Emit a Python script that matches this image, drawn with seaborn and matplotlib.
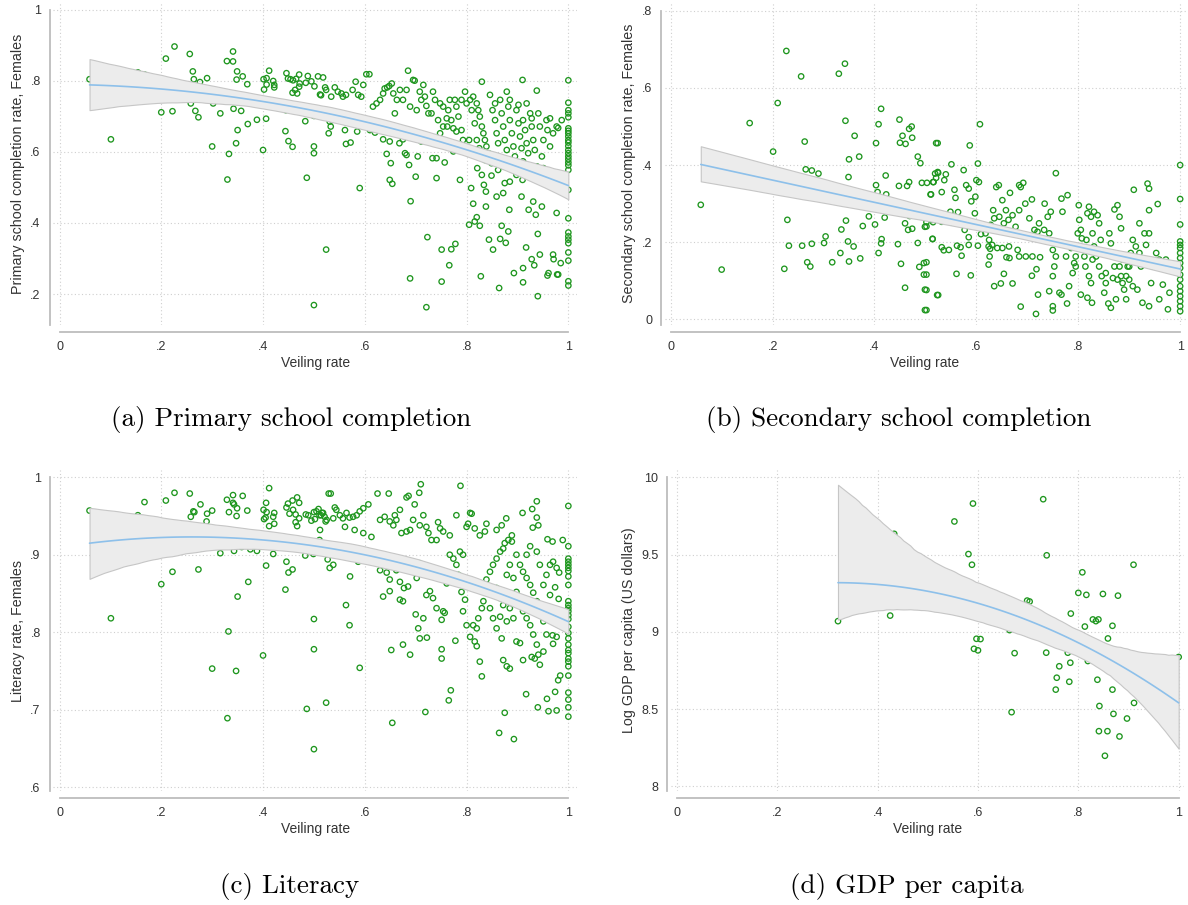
import numpy as np
import pandas as pd
import matplotlib
matplotlib.use("Agg")
import matplotlib.pyplot as plt
import seaborn as sns

# ---------------- data ----------------
a_points = [
(0.059,0.804),(0.101,0.635),(0.154,0.823),(0.167,0.817),(0.209,0.862),(0.226,0.896),(0.200,0.711),(0.222,0.714),
(0.256,0.875),(0.262,0.826),(0.264,0.804),(0.276,0.796),(0.290,0.807),(0.267,0.715),(0.273,0.697),(0.258,0.736),
(0.300,0.615),(0.302,0.736),(0.316,0.708),(0.329,0.855),(0.341,0.882),(0.341,0.854),(0.349,0.826),(0.348,0.803),
(0.360,0.812),(0.369,0.790),(0.342,0.721),(0.357,0.715),(0.350,0.661),(0.347,0.624),(0.333,0.594),(0.330,0.522),
(0.370,0.678),(0.388,0.690),(0.406,0.693),(0.400,0.605),(0.401,0.804),(0.407,0.807),(0.402,0.775),(0.407,0.789),
(0.412,0.828),(0.420,0.799),(0.422,0.788),(0.422,0.781),(0.420,0.729),(0.445,0.717),(0.444,0.658),(0.450,0.630),
(0.458,0.614),(0.446,0.821),(0.449,0.806),(0.454,0.804),(0.459,0.801),(0.465,0.805),(0.471,0.817),(0.458,0.766),
(0.463,0.774),(0.467,0.764),(0.472,0.792),(0.471,0.783),(0.484,0.794),(0.488,0.813),(0.495,0.798),(0.501,0.784),
(0.483,0.686),(0.499,0.705),(0.500,0.701),(0.500,0.615),(0.500,0.596),(0.486,0.527),(0.500,0.169),(0.524,0.325),
(0.508,0.812),(0.518,0.809),(0.512,0.761),(0.514,0.759),(0.522,0.781),(0.524,0.774),(0.529,0.652),(0.531,0.685),
(0.534,0.755),(0.541,0.781),(0.547,0.769),(0.554,0.764),(0.557,0.755),(0.563,0.760),(0.576,0.774),(0.582,0.797),
(0.587,0.760),(0.593,0.755),(0.597,0.788),(0.603,0.818),(0.609,0.818),(0.533,0.671),(0.535,0.690),(0.561,0.661),
(0.563,0.622),(0.572,0.626),(0.585,0.657),(0.590,0.498),(0.570,0.699),(0.500,0.703),
(0.610,0.661),(0.620,0.654),(0.616,0.727),(0.623,0.736),(0.630,0.746),(0.636,0.764),(0.639,0.778),(0.644,0.781),
(0.648,0.785),(0.653,0.792),(0.656,0.764),(0.636,0.635),(0.649,0.629),(0.643,0.594),(0.651,0.568),(0.649,0.521),
(0.654,0.510),(0.659,0.708),(0.662,0.666),(0.668,0.624),(0.663,0.746),(0.669,0.774),(0.675,0.746),(0.675,0.635),
(0.679,0.596),(0.682,0.591),(0.687,0.563),(0.690,0.461),(0.685,0.828),(0.689,0.244),(0.682,0.774),(0.689,0.727),
(0.695,0.802),(0.698,0.800),(0.700,0.530),(0.704,0.587),(0.708,0.769),(0.711,0.746),(0.715,0.788),(0.718,0.755),
(0.721,0.163),(0.721,0.729),(0.723,0.360),(0.725,0.708),(0.728,0.633),(0.733,0.582),(0.734,0.769),(0.738,0.746),
(0.741,0.526),(0.741,0.582),(0.744,0.689),(0.748,0.736),(0.751,0.325),(0.751,0.235),(0.754,0.727),(0.757,0.570),
(0.761,0.694),(0.762,0.671),(0.766,0.281),(0.767,0.746),(0.770,0.326),(0.774,0.601),(0.777,0.746),(0.778,0.341),
(0.780,0.727),(0.784,0.699),(0.787,0.521),(0.790,0.661),(0.793,0.633),(0.797,0.769),(0.799,0.601),
(0.702,0.717),(0.731,0.708),(0.754,0.671),(0.764,0.717),(0.770,0.689),(0.780,0.657),(0.790,0.746),(0.774,0.666),
(0.748,0.652),(0.718,0.647),(0.711,0.629),(0.738,0.626),
(0.805,0.395),(0.809,0.498),(0.813,0.454),(0.816,0.404),(0.820,0.416),(0.826,0.392),(0.828,0.250),(0.821,0.554),
(0.830,0.535),(0.834,0.507),(0.838,0.488),(0.838,0.446),(0.830,0.797),(0.844,0.353),(0.849,0.533),(0.852,0.325),
(0.859,0.474),(0.862,0.549),(0.864,0.217),(0.866,0.355),(0.869,0.392),(0.872,0.484),(0.875,0.512),(0.877,0.344),
(0.879,0.769),(0.882,0.376),(0.884,0.437),(0.885,0.516),(0.893,0.259),(0.895,0.549),(0.898,0.535),(0.908,0.474),
(0.910,0.802),(0.910,0.521),(0.911,0.273),(0.911,0.233),(0.917,0.331),(0.922,0.437),(0.928,0.298),(0.931,0.460),
(0.933,0.281),(0.936,0.423),(0.940,0.369),(0.940,0.194),(0.944,0.311),(0.948,0.446),(0.959,0.252),(0.961,0.259),
(0.970,0.311),(0.971,0.298),(0.977,0.428),(0.978,0.255),(0.980,0.255),(0.985,0.287),(0.938,0.772),(0.973,0.523),
(0.800,0.736),(0.807,0.746),(0.813,0.755),(0.820,0.736),(0.823,0.717),(0.826,0.699),(0.830,0.671),(0.833,0.652),
(0.836,0.633),(0.839,0.615),(0.843,0.596),(0.846,0.760),(0.851,0.717),(0.856,0.689),(0.859,0.652),(0.862,0.624),
(0.866,0.746),(0.869,0.708),(0.872,0.671),(0.875,0.633),(0.879,0.605),(0.882,0.727),(0.885,0.689),(0.889,0.652),
(0.892,0.615),(0.895,0.587),(0.898,0.717),(0.902,0.680),(0.905,0.643),(0.908,0.610),(0.911,0.689),(0.915,0.661),
(0.918,0.624),(0.921,0.596),(0.925,0.708),(0.928,0.671),(0.931,0.633),(0.934,0.605),(0.938,0.559),(0.941,0.708),
(0.944,0.671),(0.948,0.587),(0.951,0.633),(0.957,0.689),(0.959,0.661),(0.964,0.615),(0.970,0.652),(0.977,0.671),
(0.987,0.689),(0.810,0.717),(0.816,0.680),(0.820,0.633),(0.825,0.610),(0.830,0.596),(0.800,0.605),(0.805,0.633),
(0.836,0.577),(0.849,0.568),(0.872,0.559),(0.885,0.568),(0.911,0.573),(0.951,0.554),(0.856,0.736),(0.885,0.746),
(0.902,0.732),(0.918,0.736),(0.928,0.694),(0.964,0.694),(0.980,0.667),
(1.0,0.801),(1.0,0.738),(1.0,0.717),(1.0,0.708),(1.0,0.697),(1.0,0.666),(1.0,0.659),(1.0,0.652),(1.0,0.643),
(1.0,0.633),(1.0,0.626),(1.0,0.616),(1.0,0.605),(1.0,0.596),(1.0,0.587),(1.0,0.579),(1.0,0.570),(1.0,0.562),
(1.0,0.549),(1.0,0.493),(1.0,0.413),(1.0,0.373),(1.0,0.362),(1.0,0.353),(1.0,0.343),(1.0,0.317),(1.0,0.294),
(1.0,0.236),(1.0,0.224),
]

b_points = [
(0.059,0.297),(0.100,0.129),(0.155,0.509),(0.201,0.435),(0.210,0.561),(0.227,0.696),(0.256,0.630),(0.263,0.461),
(0.265,0.389),(0.277,0.386),(0.290,0.378),(0.300,0.354),(0.229,0.258),(0.232,0.191),(0.223,0.131),(0.258,0.191),
(0.277,0.196),(0.268,0.148),(0.274,0.137),(0.301,0.198),(0.304,0.215),(0.317,0.148),(0.330,0.637),(0.342,0.663),
(0.343,0.515),(0.335,0.233),(0.344,0.256),(0.333,0.172),(0.348,0.202),(0.350,0.150),(0.359,0.189),(0.349,0.369),
(0.350,0.415),(0.361,0.476),(0.370,0.422),(0.377,0.242),(0.372,0.158),(0.389,0.267),(0.403,0.457),(0.403,0.348),
(0.406,0.330),(0.401,0.246),(0.408,0.172),(0.413,0.546),(0.408,0.506),(0.414,0.208),(0.413,0.197),(0.422,0.373),
(0.423,0.324),(0.420,0.264),(0.449,0.518),(0.448,0.346),(0.446,0.195),(0.452,0.144),(0.450,0.458),(0.455,0.476),
(0.461,0.455),(0.468,0.494),(0.473,0.500),(0.474,0.471),(0.468,0.356),(0.464,0.346),(0.469,0.268),(0.460,0.249),
(0.466,0.232),(0.474,0.235),(0.460,0.082),(0.485,0.422),(0.490,0.405),(0.485,0.198),(0.488,0.136),(0.502,0.148),
(0.502,0.116),(0.502,0.076),(0.502,0.024),(0.503,0.354),(0.502,0.252),(0.502,0.241),(0.514,0.209),(0.515,0.252),
(0.511,0.324),(0.516,0.356),(0.521,0.367),(0.525,0.380),(0.524,0.457),(0.525,0.063),
(0.607,0.506),(0.587,0.451),(0.521,0.457),(0.603,0.404),(0.551,0.402),(0.575,0.387),(0.519,0.378),(0.524,0.382),
(0.537,0.361),(0.540,0.376),(0.493,0.354),(0.515,0.356),(0.557,0.336),(0.559,0.315),(0.580,0.348),(0.585,0.339),
(0.600,0.361),(0.605,0.356),(0.590,0.306),(0.598,0.318),(0.532,0.330),(0.510,0.324),(0.549,0.279),(0.564,0.278),
(0.514,0.258),(0.532,0.253),(0.553,0.251),(0.577,0.232),(0.585,0.213),(0.609,0.221),(0.597,0.275),(0.499,0.240),
(0.514,0.208),(0.532,0.187),(0.536,0.179),(0.546,0.180),(0.562,0.191),(0.569,0.187),(0.571,0.165),(0.585,0.193),
(0.603,0.191),(0.497,0.146),(0.497,0.116),(0.499,0.077),(0.499,0.024),(0.523,0.063),(0.561,0.118),(0.589,0.114),
(0.624,0.189),(0.627,0.183),(0.626,0.163),(0.624,0.142),(0.635,0.086),(0.648,0.093),(0.654,0.118),(0.659,0.161),
(0.665,0.159),(0.671,0.093),(0.687,0.033),(0.717,0.014),(0.721,0.064),(0.725,0.161),(0.718,0.130),(0.709,0.113),
(0.697,0.163),(0.710,0.163),(0.684,0.163),(0.681,0.180),(0.664,0.189),(0.651,0.185),(0.641,0.185),(0.631,0.193),
(0.625,0.206),(0.618,0.223),(0.628,0.245),(0.635,0.262),(0.645,0.266),(0.654,0.249),(0.663,0.258),(0.677,0.240),
(0.671,0.270),(0.684,0.283),(0.696,0.300),(0.704,0.262),(0.714,0.232),(0.720,0.227),(0.723,0.249),(0.733,0.232),
(0.743,0.223),(0.740,0.266),(0.746,0.279),(0.756,0.379),(0.767,0.313),(0.769,0.279),(0.779,0.322),(0.639,0.343),
(0.644,0.348),(0.666,0.328),(0.684,0.348),(0.692,0.354),(0.687,0.343),(0.709,0.311),(0.734,0.300),(0.651,0.309),
(0.658,0.283),(0.633,0.283),(0.750,0.180),(0.756,0.163),(0.753,0.137),(0.750,0.112),(0.743,0.073),(0.750,0.034),
(0.750,0.023),(0.763,0.069),(0.767,0.064),(0.778,0.041),(0.782,0.086),(0.789,0.120),(0.792,0.146),(0.795,0.163),
(0.795,0.189),(0.799,0.223),(0.801,0.296),(0.802,0.258),(0.805,0.232),(0.807,0.210),(0.809,0.185),(0.812,0.163),
(0.814,0.137),(0.805,0.064),(0.818,0.056),(0.827,0.043),(0.821,0.112),(0.825,0.094),(0.828,0.155),(0.831,0.189),
(0.828,0.223),(0.825,0.266),(0.821,0.292),(0.818,0.275),(0.831,0.279),(0.838,0.270),(0.841,0.249),(0.844,0.206),
(0.841,0.137),(0.846,0.112),(0.851,0.069),(0.854,0.094),(0.859,0.041),(0.864,0.030),(0.861,0.223),(0.864,0.197),
(0.868,0.172),(0.871,0.285),(0.877,0.296),(0.881,0.266),(0.884,0.236),(0.881,0.137),(0.884,0.112),(0.887,0.094),
(0.890,0.077),(0.894,0.052),(0.874,0.052),(0.897,0.137),(0.900,0.103),(0.903,0.172),(0.907,0.206),(0.909,0.336),
(0.913,0.189),(0.916,0.077),(0.920,0.249),(0.923,0.137),(0.926,0.043),(0.930,0.223),(0.933,0.193),(0.936,0.352),
(0.939,0.339),(0.939,0.283),(0.939,0.034),(0.943,0.094),(0.946,0.137),(0.953,0.172),(0.956,0.299),(0.959,0.052),
(0.966,0.090),(0.972,0.155),(0.976,0.026),(0.979,0.069),(0.985,0.129),(0.989,0.133),
(0.776,0.163),(0.786,0.185),(0.795,0.137),(0.816,0.206),(0.835,0.163),(0.851,0.172),(0.871,0.137),(0.877,0.103),
(0.894,0.112),(0.907,0.086),(0.920,0.172),(0.939,0.223),(0.959,0.155),(0.854,0.120),(0.868,0.107),(0.887,0.155),
(0.900,0.137),
(1.0,0.400),(1.0,0.312),(1.0,0.246),(1.0,0.202),(1.0,0.193),(1.0,0.185),(1.0,0.172),(1.0,0.159),(1.0,0.146),
(1.0,0.133),(1.0,0.116),(1.0,0.103),(1.0,0.086),(1.0,0.073),(1.0,0.060),(1.0,0.047),(1.0,0.034),(1.0,0.021),
]

c_points = [
(0.059,0.957),(0.101,0.818),(0.154,0.951),(0.167,0.968),(0.200,0.862),(0.209,0.970),(0.222,0.878),(0.226,0.980),
(0.256,0.979),(0.258,0.949),(0.263,0.956),(0.265,0.955),(0.273,0.881),(0.276,0.908),(0.277,0.965),(0.290,0.953),
(0.289,0.943),(0.300,0.957),(0.300,0.753),(0.316,0.902),(0.329,0.971),(0.333,0.955),(0.332,0.801),(0.330,0.689),
(0.341,0.977),(0.341,0.967),(0.343,0.965),(0.343,0.905),(0.347,0.750),(0.348,0.950),(0.349,0.960),(0.350,0.846),
(0.358,0.910),(0.360,0.976),(0.369,0.957),(0.371,0.865),(0.375,0.907),(0.388,0.905),(0.400,0.770),(0.401,0.958),
(0.402,0.946),(0.405,0.948),(0.406,0.886),(0.406,0.967),(0.407,0.955),(0.412,0.986),(0.412,0.937),(0.420,0.901),
(0.422,0.954),(0.420,0.949),(0.422,0.940),(0.444,0.855),(0.446,0.891),(0.446,0.961),(0.449,0.966),(0.450,0.877),
(0.452,0.953),(0.458,0.970),(0.458,0.881),(0.459,0.958),(0.464,0.942),(0.464,0.952),(0.467,0.974),(0.467,0.937),
(0.471,0.947),(0.471,0.967),(0.483,0.899),(0.484,0.952),(0.486,0.701),(0.489,0.951),(0.495,0.944),(0.499,0.901),
(0.500,0.955),(0.500,0.817),(0.500,0.778),(0.500,0.649),(0.502,0.946),(0.509,0.959),(0.512,0.932),(0.514,0.951),
(0.516,0.954),(0.521,0.949),(0.523,0.943),(0.524,0.709),(0.527,0.894),(0.529,0.979),
(0.533,0.979),(0.563,0.835),(0.570,0.809),(0.571,0.872),(0.590,0.754),(0.654,0.683),(0.719,0.697),(0.765,0.712),
(0.769,0.725),(0.864,0.670),(0.893,0.662),(0.875,0.696),(0.917,0.720),(0.940,0.703),(0.958,0.714),(0.961,0.698),
(0.977,0.699),(0.974,0.723),(0.980,0.738),(0.984,0.744),(0.625,0.979),(0.647,0.979),(0.682,0.974),(0.686,0.976),
(0.698,0.965),(0.707,0.980),(0.710,0.991),(0.788,0.989),(0.807,0.954),(0.810,0.953),(0.878,0.947),(0.910,0.954),
(0.929,0.959),(0.938,0.969),(0.938,0.948),(0.941,0.938),(0.930,0.935),(0.959,0.920),(0.969,0.917),(0.989,0.919),
(1.0,0.963),(0.970,0.891),(0.977,0.883),(0.982,0.877),(0.974,0.858),(0.981,0.843),
(0.505,0.956),(0.511,0.951),(0.518,0.954),(0.525,0.945),(0.538,0.947),(0.544,0.958),(0.551,0.951),(0.557,0.947),
(0.564,0.954),(0.570,0.948),(0.577,0.949),(0.584,0.951),(0.590,0.956),(0.597,0.960),(0.607,0.965),(0.541,0.961),
(0.561,0.936),(0.580,0.932),(0.597,0.928),(0.613,0.923),(0.630,0.945),(0.639,0.949),(0.649,0.943),(0.656,0.938),
(0.662,0.945),(0.669,0.958),(0.659,0.951),(0.672,0.928),(0.682,0.930),(0.689,0.932),(0.695,0.945),(0.708,0.938),
(0.715,0.951),(0.721,0.936),(0.725,0.928),(0.731,0.919),(0.741,0.919),(0.744,0.942),(0.748,0.934),(0.754,0.930),
(0.767,0.925),(0.780,0.951),(0.800,0.936),(0.803,0.940),(0.816,0.934),(0.826,0.925),(0.836,0.930),(0.839,0.940),
(0.859,0.932),(0.869,0.938),(0.875,0.915),(0.889,0.925),(0.882,0.919),(0.889,0.917),
(0.511,0.919),(0.538,0.900),(0.557,0.902),(0.531,0.883),(0.538,0.887),(0.577,0.904),(0.587,0.891),(0.607,0.895),
(0.633,0.891),(0.630,0.880),(0.643,0.877),(0.662,0.880),(0.649,0.868),(0.669,0.865),(0.677,0.857),(0.685,0.859),
(0.636,0.846),(0.649,0.853),(0.669,0.842),(0.675,0.840),(0.702,0.870),(0.708,0.889),(0.715,0.878),(0.721,0.848),
(0.728,0.853),(0.734,0.844),(0.741,0.831),(0.751,0.816),(0.754,0.827),(0.700,0.823),(0.715,0.818),(0.705,0.805),
(0.689,0.771),(0.675,0.784),(0.652,0.777),(0.708,0.792),(0.722,0.793),(0.751,0.778),(0.751,0.766),(0.757,0.825),
(0.761,0.863),(0.767,0.900),(0.774,0.895),(0.780,0.887),(0.787,0.904),(0.793,0.900),(0.784,0.874),(0.790,0.852),
(0.797,0.842),(0.793,0.827),(0.800,0.809),(0.778,0.789),(0.807,0.794),(0.816,0.788),(0.820,0.782),(0.826,0.762),
(0.830,0.743),(0.813,0.809),(0.820,0.805),(0.823,0.818),(0.830,0.831),(0.833,0.840),(0.836,0.852),(0.839,0.868),
(0.846,0.878),(0.852,0.887),(0.859,0.895),(0.866,0.904),(0.872,0.908),(0.879,0.874),(0.885,0.887),(0.892,0.870),
(0.898,0.852),(0.905,0.840),(0.911,0.827),(0.918,0.818),(0.925,0.809),(0.931,0.797),(0.938,0.784),(0.941,0.771),
(0.944,0.758),(0.951,0.775),(0.846,0.831),(0.852,0.818),(0.859,0.805),(0.869,0.792),(0.872,0.764),(0.879,0.756),
(0.885,0.753),(0.898,0.788),(0.905,0.786),(0.911,0.764),(0.928,0.768),(0.934,0.766),(0.957,0.797),(0.969,0.796),
(0.977,0.794),(0.970,0.785),(0.951,0.814),(0.944,0.827),(0.938,0.840),(0.931,0.851),(0.925,0.861),(0.918,0.870),
(0.911,0.878),(0.905,0.887),(0.898,0.900),(0.951,0.861),(0.957,0.874),(0.964,0.887),(0.944,0.887),(0.938,0.904),
(0.925,0.911),(0.918,0.900),(0.964,0.848),(0.859,0.857),(0.866,0.844),(0.872,0.835),(0.885,0.831),(0.892,0.818),
(0.879,0.814),(0.866,0.820),
(1.0,0.911),(1.0,0.895),(1.0,0.891),(1.0,0.887),(1.0,0.883),(1.0,0.879),(1.0,0.872),(1.0,0.861),(1.0,0.840),
(1.0,0.835),(1.0,0.831),(1.0,0.827),(1.0,0.822),(1.0,0.817),(1.0,0.807),(1.0,0.799),(1.0,0.792),(1.0,0.784),
(1.0,0.777),(1.0,0.773),(1.0,0.766),(1.0,0.762),(1.0,0.756),(1.0,0.744),(1.0,0.722),(1.0,0.713),(1.0,0.703),
(1.0,0.691),
]

d_points = [
(0.321,9.069),(0.425,9.105),(0.433,9.634),(0.553,9.714),(0.590,9.830),(0.581,9.503),(0.588,9.434),(0.597,8.955),
(0.605,8.953),(0.592,8.890),(0.600,8.880),(0.663,9.011),(0.673,8.862),(0.667,8.480),(0.698,9.202),(0.703,9.196),
(0.730,9.858),(0.737,9.495),(0.736,8.865),(0.757,8.703),(0.755,8.626),(0.762,8.777),(0.779,8.865),(0.785,9.118),
(0.784,8.800),(0.782,8.677),(0.800,9.252),(0.808,9.385),(0.816,9.239),(0.813,9.034),(0.819,8.811),(0.829,9.080),
(0.835,9.069),(0.840,9.080),(0.849,9.245),(0.859,8.957),(0.838,8.690),(0.842,8.520),(0.841,8.357),(0.858,8.357),
(0.853,8.198),(0.868,9.039),(0.868,8.626),(0.870,8.469),(0.879,9.234),(0.882,8.323),(0.897,8.439),(0.910,9.434),
(0.911,8.540),(1.0,8.837),
]

x_ticks = [0, 0.2, 0.4, 0.6, 0.8, 1.0]
x_ticklabels = ["0", ".2", ".4", ".6", ".8", "1"]
a_yticks = [0.2, 0.4, 0.6, 0.8, 1.0]
a_yticklabels = [".2", ".4", ".6", ".8", "1"]
b_yticks = [0, 0.2, 0.4, 0.6, 0.8]
b_yticklabels = ["0", ".2", ".4", ".6", ".8"]
c_yticks = [0.6, 0.7, 0.8, 0.9, 1.0]
c_yticklabels = [".6", ".7", ".8", ".9", "1"]
d_yticks = [8, 8.5, 9, 9.5, 10]
d_yticklabels = ["8", "8.5", "9", "9.5", "10"]

y_labels = ["Primary school completion rate, Females",
            "Secondary school completion rate, Females",
            "Literacy rate, Females",
            "Log GDP per capita (US dollars)"]
captions = ["(a) Primary school completion", "(b) Secondary school completion",
            "(c) Literacy", "(d) GDP per capita"]

# ---------------- styling ----------------
sns.set_style("white")
plt.rcParams["font.family"] = ["Liberation Sans", "DejaVu Sans"]

W, H = 1188, 905
fig = plt.figure(figsize=(W / 100, H / 100), dpi=100)

GREEN = "#1e961e"
LINE = "#8dc0ea"
AXC = "#bdbdbd"
TXT = "#333333"


def px_axes(left, top, right, bottom):
    return fig.add_axes([left / W, 1 - bottom / H, (right - left) / W, (bottom - top) / H])


panels = [
    dict(pts=a_points, box=(53.2, 2.4, 577.5, 325), xlim=(-0.0124, 1.018), ylim=(0.113, 1.02),
         yt=a_yticks, ytl=a_yticklabels, cap=(291, 419), order=2, ci=95),
    dict(pts=b_points, box=(664.6, 1.6, 1185.5, 325), xlim=(-0.012, 1.0105), ylim=(-0.0147, 0.824),
         yt=b_yticks, ytl=b_yticklabels, cap=(899, 419), order=1, ci=95),
    dict(pts=c_points, box=(53.2, 470, 577.5, 791), xlim=(-0.0124, 1.018), ylim=(0.595, 1.0094),
         yt=c_yticks, ytl=c_yticklabels, cap=(290, 886), order=2, ci=95),
    dict(pts=d_points, box=(670.9, 470, 1183.7, 791), xlim=(-0.012, 1.01), ylim=(7.97, 10.047),
         yt=d_yticks, ytl=d_yticklabels, cap=(907, 886), order=2, ci=85),
]

for i, p in enumerate(panels):
    ax = px_axes(*p["box"])
    df = pd.DataFrame(p["pts"], columns=["veil", "val"])
    sns.scatterplot(data=df, x="veil", y="val", ax=ax, s=15, marker="o",
                    color=GREEN, facecolor="none", edgecolor=GREEN, linewidth=0.95,
                    zorder=2, legend=False)
    n_before = len(ax.collections)
    sns.regplot(data=df, x="veil", y="val", ax=ax, scatter=False, order=p["order"], ci=p["ci"],
                n_boot=1000, seed=3, color=LINE, line_kws=dict(lw=1.2, zorder=4))
    for coll in ax.collections[n_before:]:
        coll.set_facecolor("#ececec")
        coll.set_edgecolor("#c6c6c6")
        coll.set_alpha(1)
        coll.set_linewidth(0.8)
        coll.set_zorder(3)

    ax.set_xlim(*p["xlim"])
    ax.set_ylim(*p["ylim"])
    ax.set_xticks(x_ticks)
    ax.set_xticklabels(x_ticklabels)
    ax.set_yticks(p["yt"])
    ax.set_yticklabels(p["ytl"], rotation=0)
    ax.grid(True, linestyle=(0, (1, 2.2)), color="#cfcfcf", lw=0.8, zorder=0)
    ax.set_axisbelow(True)
    for s in ["top", "right"]:
        ax.spines[s].set_visible(False)
    ax.spines["left"].set_position(("outward", 2.5))
    ax.spines["bottom"].set_position(("outward", 5))
    ax.spines["left"].set_bounds(p["ylim"][0], p["yt"][-1])
    ax.spines["bottom"].set_bounds(0, 1)
    for s in ["left", "bottom"]:
        ax.spines[s].set_color(AXC)
        ax.spines[s].set_linewidth(1.3)
    ax.tick_params(direction="out", length=4, width=1, color=AXC, labelsize=9,
                   labelcolor=TXT, pad=2.5)
    ax.set_xlabel("Veiling rate", fontsize=10, color=TXT, labelpad=2)
    ax.set_ylabel(y_labels[i], fontsize=10.3, color=TXT, labelpad=4)

    cx, cy = p["cap"]
    fig.text(cx / W, 1 - cy / H, captions[i], ha="center", va="center",
             fontsize=19.5, family="cmr10", color="black")

fig.savefig("out.png", dpi=100)
